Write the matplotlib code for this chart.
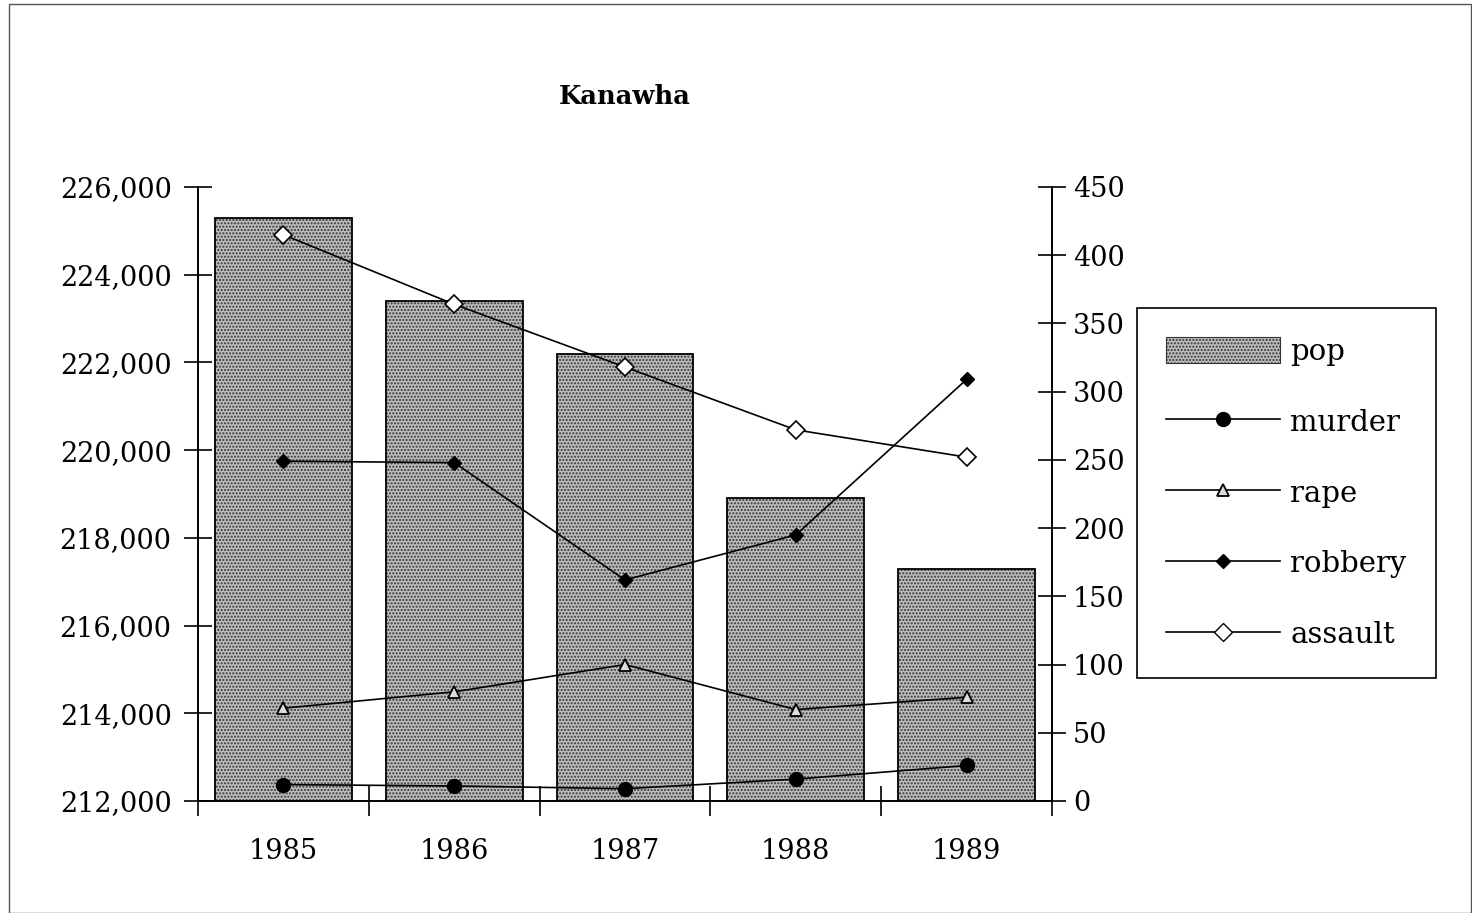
import numpy as np
import matplotlib
matplotlib.use("Agg")
import matplotlib.pyplot as plt
import matplotlib.ticker as mtick
from matplotlib.patches import Rectangle, Patch
from matplotlib.lines import Line2D

# --- data ---
years = ["1985", "1986", "1987", "1988", "1989"]
pop = [225300, 223400, 222200, 218900, 217300]
murder = [12, 11, 9, 16, 26]
rape = [68, 80, 100, 67, 76]
robbery = [249, 248, 162, 195, 309]
assault = [415, 364, 318, 272, 252]

plt.rcParams['font.family'] = ['DejaVu Serif']
FS = 19.5
LEG_FS = 21

fig = plt.figure(figsize=(14.72, 9.13), dpi=100)
ax = fig.add_axes([0.1345, 0.1227, 0.5802, 0.6725])
ax2 = ax.twinx()

x = np.arange(len(years))

# stippled bars: grey fill with dark dots, then a black outline on top
ax.bar(x, pop, width=0.8, color='#bcbcbc', edgecolor='#333333', hatch='.....', linewidth=0, zorder=2)
ax.bar(x, pop, width=0.8, fill=False, edgecolor='black', linewidth=1.3, zorder=3)

ax.set_xlim(-0.5, 4.5)
ax.set_ylim(212000, 226000)
ax.yaxis.set_major_locator(mtick.MultipleLocator(2000))
ax.yaxis.set_major_formatter(mtick.FuncFormatter(lambda v, p: f"{int(v):,}"))
ax.set_xticks(x)
ax.set_xticklabels(years)
ax.set_xticks(np.arange(-0.5, 5.0, 1.0), minor=True)
ax.tick_params(axis='x', which='major', length=0, pad=27, labelsize=FS)
ax.tick_params(axis='x', which='minor', direction='inout', length=22, width=1.2)
ax.tick_params(axis='y', direction='inout', length=20, width=1.2, labelsize=FS, pad=9)

line_kw = dict(color='black', linewidth=1.2)
ax2.plot(x, murder, marker='o', markersize=10, markerfacecolor='black', markeredgecolor='black', zorder=5, **line_kw)
ax2.plot(x, rape, marker='^', markersize=9, markerfacecolor='#dddddd', markeredgecolor='black', markeredgewidth=1.3, zorder=5, **line_kw)
ax2.plot(x, robbery, marker='D', markersize=7, markerfacecolor='black', markeredgecolor='black', zorder=5, **line_kw)
ax2.plot(x, assault, marker='D', markersize=9, markerfacecolor='white', markeredgecolor='black', markeredgewidth=1.2, zorder=5, **line_kw)
ax2.set_ylim(0, 450)
ax2.yaxis.set_major_locator(mtick.MultipleLocator(50))
ax2.tick_params(axis='y', direction='inout', length=20, width=1.2, labelsize=FS, pad=5)

for a in (ax, ax2):
    a.spines['top'].set_visible(False)
    for s in ('left', 'right', 'bottom'):
        a.spines[s].set_linewidth(1.2)

fig.text(0.4246, 0.894, "Kanawha", ha='center', va='center', fontsize=18.5, fontweight='bold')

handles = [
    Patch(facecolor='#bcbcbc', edgecolor='#333333', hatch='.....', linewidth=0.8),
    Line2D([], [], marker='o', markersize=10, markerfacecolor='black', markeredgecolor='black', **line_kw),
    Line2D([], [], marker='^', markersize=9, markerfacecolor='#dddddd', markeredgecolor='black', markeredgewidth=1.3, **line_kw),
    Line2D([], [], marker='D', markersize=7, markerfacecolor='black', markeredgecolor='black', **line_kw),
    Line2D([], [], marker='D', markersize=9, markerfacecolor='white', markeredgecolor='black', **line_kw),
]
labels = ["pop", "murder", "rape", "robbery", "assault"]
leg = fig.legend(handles, labels, loc='upper left', bbox_to_anchor=(0.7724, 0.6627),
                 fontsize=LEG_FS, handlelength=3.9, handleheight=1.0, labelspacing=1.43,
                 fancybox=False, edgecolor='black', framealpha=1, borderpad=1.0,
                 handletextpad=0.35, numpoints=1, borderaxespad=0)
leg.get_frame().set_linewidth(1.2)

# thin frame round the whole page
fig.patches.append(Rectangle((0.006, 0.0), 0.993, 0.996, transform=fig.transFigure,
                             fill=False, edgecolor='#555555', linewidth=1))

fig.savefig("out.png", dpi=100)
